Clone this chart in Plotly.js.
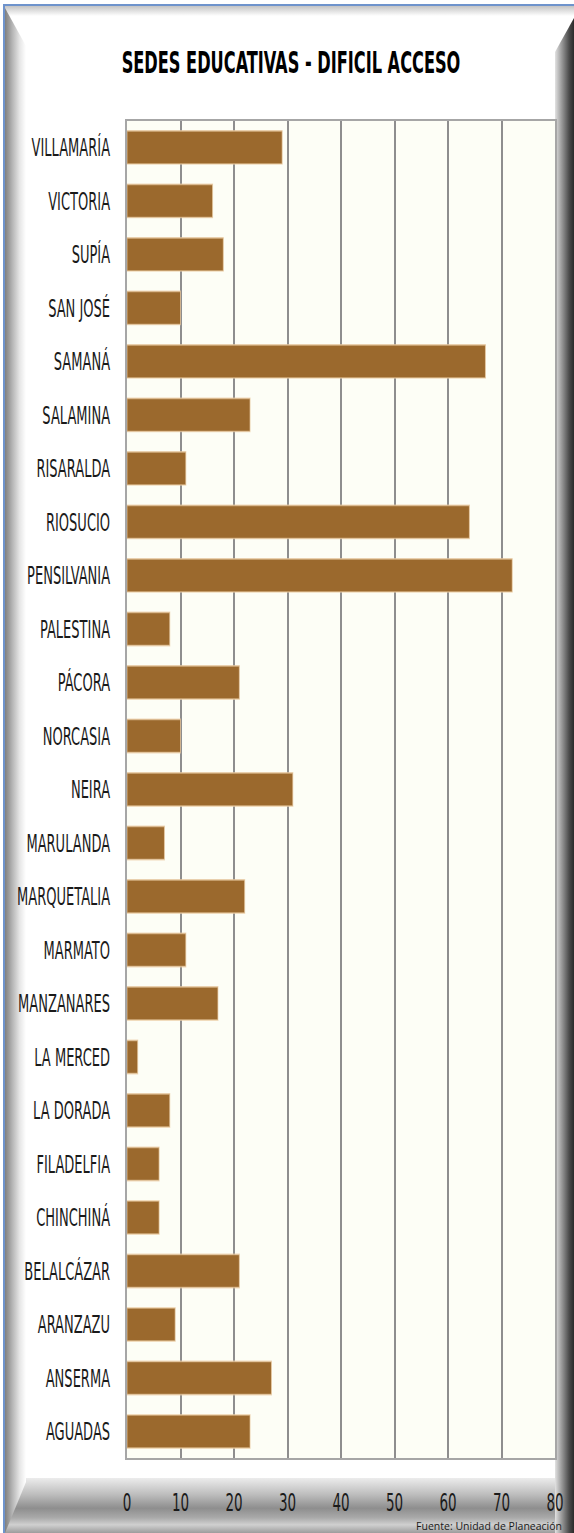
<!DOCTYPE html>
<html>
<head>
<meta charset="utf-8">
<script src="https://cdn.plot.ly/plotly-3.0.1.min.js"></script>
<style>
  html, body { margin: 0; padding: 0; background: #ffffff; }
  #wrap { position: relative; width: 574px; height: 1533px; overflow: hidden; background: #ffffff; }
  .fr { position: absolute; }
  #blue { left: 3px; top: 4px; width: 580px; height: 1540px; border-left: 2px solid #6e93cc; border-top: 2px solid #6e93cc; box-sizing: border-box; }
  #topb { left: 5px; top: 6px; width: 569px; height: 10px; background: linear-gradient(to bottom, #c4c4c4, #ffffff); }
  #leftb { left: 5px; top: 6px; width: 21px; height: 1527px;
           background: linear-gradient(to right, #7f7f7f, #b5b5b5 35%, #e6e6e6 70%, #ffffff);
           clip-path: polygon(0px 2px, 21px 40px, 21px 1476px, 0px 1527px); }
  #rightb { left: 555px; top: 0px; width: 19px; height: 1533px;
           background: linear-gradient(to right, #e2e2e2, #9a9a9a 35%, #4a4a4a 75%, #2a2a2a);
           clip-path: polygon(19px 18px, 19px 1533px, 0px 1533px, 0px 52px); }
  #botb { left: 5px; top: 1478px; width: 569px; height: 55px;
          background: linear-gradient(to bottom, #ececec 0%, #bdbdbd 30%, #8e8e8e 55%, #a9a9a9 72%, #d0d0d0 85%, #9c9c9c 100%);
          clip-path: polygon(20px 0px, 569px 0px, 569px 55px, 0px 55px, 0px 50px); }
  #chart { position: absolute; left: 0; top: 0; width: 574px; height: 902px;
           transform: scaleY(1.69956); transform-origin: 0 0; }
  #fuente { position: absolute; right: 12px; top: 1521px; height: 11px; line-height: 11px;
            font-family: 'Open Sans', sans-serif; font-size: 10.5px; color: #1a1a1a; white-space: nowrap; }
</style>
</head>
<body>
<div id="wrap">
  <div class="fr" id="blue"></div>
  <div class="fr" id="topb"></div>
  <div class="fr" id="botb"></div>
  <div class="fr" id="leftb"></div>
  <div class="fr" id="rightb"></div>
  <div id="chart"></div>
  <div id="fuente"></div>
</div>
<script>
// Municipalities, top to bottom as shown in the chart
const municipios = [
  "VILLAMARÍA", "VICTORIA", "SUPÍA", "SAN JOSÉ", "SAMANÁ", "SALAMINA",
  "RISARALDA", "RIOSUCIO", "PENSILVANIA", "PALESTINA", "PÁCORA", "NORCASIA",
  "NEIRA", "MARULANDA", "MARQUETALIA", "MARMATO", "MANZANARES", "LA MERCED",
  "LA DORADA", "FILADELFIA", "CHINCHINÁ", "BELALCÁZAR", "ARANZAZU", "ANSERMA", "AGUADAS"
];
// Number of educational sites with difficult access
const sedes = [
  29, 16, 18, 10, 67, 23,
  11, 64, 72, 8, 21, 10,
  31, 7, 22, 11, 17, 2,
  8, 6, 6, 21, 9, 27, 23
];
const xTicks = [0, 10, 20, 30, 40, 50, 60, 70, 80];
const chartTitle = "SEDES EDUCATIVAS - DIFICIL ACCESO";
const fuente = "Fuente: Unidad de Planeación";

document.getElementById("fuente").textContent = fuente;

const narrow = "'DejaVu Sans Condensed', 'Liberation Sans Narrow', sans-serif";

const trace = {
  type: "bar",
  orientation: "h",
  y: municipios,
  x: sedes,
  marker: { color: "#9b692d", line: { color: "rgba(235,205,165,0.7)", width: 1 } },
  hoverinfo: "x+y"
};

const layout = {
  width: 574,
  height: 902,
  margin: { l: 127, r: 19, t: 71, b: 44, pad: 0 },
  paper_bgcolor: "rgba(0,0,0,0)",
  plot_bgcolor: "#fdfef6",
  bargap: 0.38,
  showlegend: false,
  title: {
    text: chartTitle,
    font: { family: narrow, size: 18, color: "#000000", weight: "bold" },
    x: 291 / 574, xref: "container", xanchor: "center",
    y: 1 - 62 / 1533, yref: "container", yanchor: "middle"
  },
  xaxis: {
    range: [0, 80],
    tickvals: xTicks,
    ticktext: xTicks.map(String),
    showgrid: true,
    gridcolor: "#8e8e8e",
    gridwidth: 2,
    zeroline: false,
    showline: true,
    linecolor: "#a6a6a6",
    linewidth: 1,
    mirror: true,
    ticks: "outside",
    ticklen: 12,
    tickcolor: "rgba(0,0,0,0)",
    tickfont: { family: narrow, size: 15, color: "#1a1a1a" },
    fixedrange: true
  },
  yaxis: {
    type: "category",
    autorange: "reversed",
    showgrid: false,
    zeroline: false,
    showline: true,
    linecolor: "#a6a6a6",
    linewidth: 2,
    mirror: true,
    ticks: "outside",
    ticklen: 12,
    tickcolor: "rgba(0,0,0,0)",
    tickfont: { family: narrow, size: 14.5, color: "#1a1a1a" },
    fixedrange: true
  }
};

Plotly.newPlot("chart", [trace], layout, { displayModeBar: false, staticPlot: true });
</script>
</body>
</html>
